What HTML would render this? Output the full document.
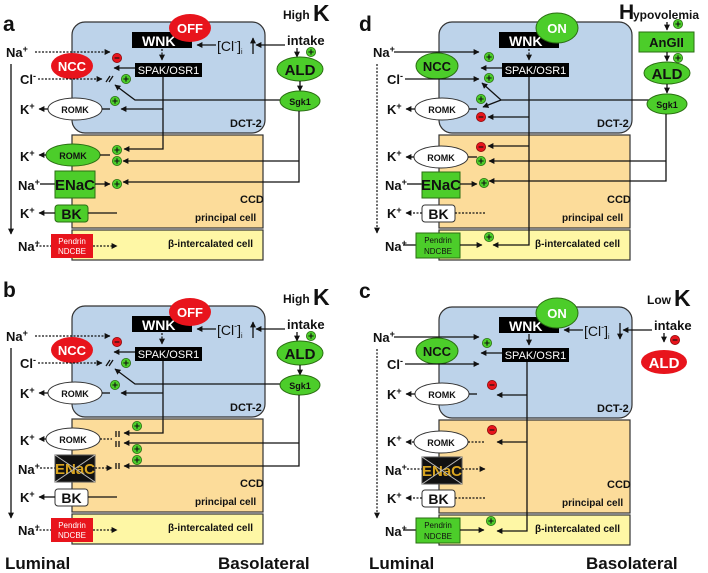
<!DOCTYPE html>
<html><head><meta charset="utf-8"><style>
html,body{margin:0;padding:0;background:#fff}
svg{display:block}
text{font-family:"Liberation Sans",sans-serif;font-weight:bold;fill:#111}
.L{font-size:13px}
.w{fill:#fff}
.s{stroke:#111;stroke-width:1.3;fill:none}
.d{stroke:#111;stroke-width:1.2;fill:none;stroke-dasharray:2 1.5}
.bx{stroke:#333;stroke-width:1.2}
</style></head><body>
<svg width="708" height="573" viewBox="0 0 708 573" xmlns="http://www.w3.org/2000/svg">
<defs>
<marker id="a" viewBox="0 0 10 10" refX="9" refY="5" markerWidth="6" markerHeight="6" markerUnits="userSpaceOnUse" orient="auto"><path d="M0,0L10,5L0,10z" fill="#111"/></marker>
<g id="P"><circle r="4.6" fill="#4ccd2a" stroke="#2a6e12" stroke-width=".8"/><path d="M-2.6,0H2.6M0,-2.6V2.6" stroke="#111" stroke-width="1.1"/></g>
<g id="M"><circle r="4.6" fill="#e8141c" stroke="#8a0a0a" stroke-width=".8"/><path d="M-2.4,0H2.4" stroke="#111" stroke-width="1.1"/></g>
<g id="boxes">
<rect x="72" y="22" width="193" height="111" rx="13" fill="#bdd3ea" class="bx"/>
<rect x="72" y="135" width="191" height="93" fill="#fcdc9a" class="bx"/>
<rect x="72" y="230" width="191" height="30" fill="#fef7a5" class="bx"/>
<rect x="132" y="32" width="60" height="16" fill="#000"/>
<rect x="135" y="63" width="67" height="14" fill="#000"/>
<ellipse cx="75" cy="109" rx="27" ry="11" fill="#fff" stroke="#333"/>
</g>
<g id="txt">
<text x="142" y="46" class="w" font-size="14">WNK</text>
<text x="168.5" y="74" class="w" font-size="11" text-anchor="middle" style="font-weight:normal">SPAK/OSR1</text>
<text x="75" y="113" font-size="9" text-anchor="middle">ROMK</text>
<text x="230" y="127" font-size="11">DCT-2</text>
<text x="240" y="203" font-size="11">CCD</text>
<text x="195" y="221" font-size="10">principal cell</text>
<text x="168" y="247" font-size="10">β-intercalated cell</text>
<text x="6" y="57" class="L">Na<tspan font-size="9" dy="-5">+</tspan></text>
<text x="20" y="84" class="L">Cl<tspan font-size="9" dy="-5">-</tspan></text>
<text x="20" y="114" class="L">K<tspan font-size="9" dy="-5">+</tspan></text>
<text x="20" y="161" class="L">K<tspan font-size="9" dy="-5">+</tspan></text>
<text x="18" y="190" class="L">Na<tspan font-size="9" dy="-5">+</tspan></text>
<text x="20" y="218" class="L">K<tspan font-size="9" dy="-5">+</tspan></text>
<text x="18" y="251" class="L">Na<tspan font-size="9" dy="-5">+</tspan></text>
</g>
<g id="cln">
<text x="217" y="51" font-size="14" style="font-weight:normal">[Cl<tspan font-size="9" dy="-6">-</tspan><tspan dy="6">]</tspan><tspan font-size="7" dy="3">i</tspan></text>
<path class="s" d="M216,45H197" marker-end="url(#a)"/>
<path class="s" d="M285,45H256" marker-end="url(#a)"/>
<text x="287" y="45" font-size="13">intake</text>
<path class="s" d="M297,48V57" marker-end="url(#a)"/>
</g>
<g id="romkline">
<path class="s" d="M48,109H39" marker-end="url(#a)"/>
<path class="s" d="M102,109H110"/>
<path class="s" d="M135,68H114" marker-end="url(#a)"/>
</g>
</defs>

<!-- PANEL A -->
<g>
<text x="3" y="31" font-size="21">a</text>
<use href="#boxes"/><use href="#txt"/><use href="#cln"/><use href="#romkline"/>
<path class="s" d="M253,54V38" marker-end="url(#a)"/>
<ellipse cx="190" cy="28" rx="21" ry="14" fill="#e8141c"/><text x="190" y="33" class="w" font-size="13" text-anchor="middle">OFF</text>
<path class="d" d="M162,49V60" marker-end="url(#a)"/>
<ellipse cx="72" cy="66" rx="21" ry="13" fill="#e8141c"/><text x="72" y="71" class="w" font-size="13" text-anchor="middle">NCC</text>
<path class="d" d="M35,52H110" marker-end="url(#a)"/>
<use href="#M" x="117" y="58"/>
<path class="d" d="M38,79H102" marker-end="url(#a)"/>
<path class="s" d="M106,82L110,76M109,82L113,76" stroke-width="1"/>
<use href="#P" x="126" y="79"/>
<path class="s" d="M280,100H135L115,85" marker-end="url(#a)"/>
<use href="#P" x="115" y="101"/>
<path class="s" d="M163,77V149H124" marker-end="url(#a)"/>
<path class="s" d="M163,109H121" marker-end="url(#a)"/>
<text x="283" y="19" font-size="12">High</text><text x="313" y="21" font-size="23">K</text>
<use href="#P" x="311" y="52"/>
<ellipse cx="300" cy="69" rx="23" ry="12" fill="#4ccd2a" stroke="#2a6e12"/><text x="300" y="75" font-size="15" text-anchor="middle">ALD</text>
<path class="s" d="M300,81V91" marker-end="url(#a)"/>
<ellipse cx="300" cy="101" rx="20" ry="10" fill="#4ccd2a" stroke="#2a6e12"/><text x="300" y="105" font-size="9" text-anchor="middle">Sgk1</text>
<path class="s" d="M299,111V182H123" marker-end="url(#a)"/>
<path class="s" d="M299,161H123" marker-end="url(#a)"/>
<ellipse cx="73" cy="155" rx="27" ry="11" fill="#4ccd2a" stroke="#2a6e12"/><text x="73" y="159" font-size="9" text-anchor="middle">ROMK</text>
<path class="s" d="M46,155H39" marker-end="url(#a)"/><path class="s" d="M100,155H110"/>
<use href="#P" x="117" y="150"/><use href="#P" x="117" y="161"/>
<path class="s" d="M40,184H55"/>
<rect x="55" y="171" width="40" height="27" fill="#4ccd2a" stroke="#2a6e12"/><text x="75" y="190" font-size="15" text-anchor="middle">ENaC</text>
<path class="s" d="M95,184H110" marker-end="url(#a)"/><use href="#P" x="117" y="184"/>
<rect x="55" y="205" width="33" height="17" rx="3" fill="#4ccd2a" stroke="#2a6e12"/><text x="71.5" y="219" font-size="14" text-anchor="middle">BK</text>
<path class="s" d="M55,213H39" marker-end="url(#a)"/><path class="s" d="M88,213H117"/>
<path class="d" d="M36,246H51"/>
<rect x="51" y="234" width="42" height="24" fill="#e8141c"/><text x="72" y="244" class="w" font-size="8" text-anchor="middle" style="font-weight:normal">Pendrin</text><text x="72" y="254" class="w" font-size="8" text-anchor="middle" style="font-weight:normal">NDCBE</text>
<path class="d" d="M93,246H117" marker-end="url(#a)"/>
<path class="s" d="M11,64V234" marker-end="url(#a)"/>
</g>

<!-- PANEL B -->
<g transform="translate(0,284)">
<text x="3" y="13" font-size="21">b</text>
<use href="#boxes"/><use href="#txt"/><use href="#cln"/><use href="#romkline"/>
<path class="s" d="M253,54V38" marker-end="url(#a)"/>
<ellipse cx="190" cy="28" rx="21" ry="14" fill="#e8141c"/><text x="190" y="33" class="w" font-size="13" text-anchor="middle">OFF</text>
<path class="d" d="M162,49V60" marker-end="url(#a)"/>
<ellipse cx="72" cy="66" rx="21" ry="13" fill="#e8141c"/><text x="72" y="71" class="w" font-size="13" text-anchor="middle">NCC</text>
<path class="d" d="M35,52H110" marker-end="url(#a)"/>
<use href="#M" x="117" y="58"/>
<path class="d" d="M38,79H102" marker-end="url(#a)"/>
<path class="s" d="M106,82L110,76M109,82L113,76" stroke-width="1"/>
<use href="#P" x="126" y="79"/>
<path class="s" d="M280,100H135L115,85" marker-end="url(#a)"/>
<use href="#P" x="115" y="101"/>
<path class="s" d="M163,77V149H124" marker-end="url(#a)"/>
<path class="s" d="M163,109H121" marker-end="url(#a)"/>
<text x="283" y="19" font-size="12">High</text><text x="313" y="21" font-size="23">K</text>
<use href="#P" x="311" y="52"/>
<ellipse cx="300" cy="69" rx="23" ry="12" fill="#4ccd2a" stroke="#2a6e12"/><text x="300" y="75" font-size="15" text-anchor="middle">ALD</text>
<path class="s" d="M300,81V91" marker-end="url(#a)"/>
<ellipse cx="300" cy="101" rx="20" ry="10" fill="#4ccd2a" stroke="#2a6e12"/><text x="300" y="105" font-size="9" text-anchor="middle">Sgk1</text>
<path class="s" d="M299,111V182H124" marker-end="url(#a)"/>
<path class="s" d="M299,159H124" marker-end="url(#a)"/>
<ellipse cx="73" cy="155" rx="27" ry="11" fill="#fff" stroke="#333"/><text x="73" y="159" font-size="9" text-anchor="middle">ROMK</text>
<path class="d" d="M46,155H39" marker-end="url(#a)"/><path class="d" d="M100,155H112"/>
<path class="s" d="M116,147V153M119,147V153M116,157V163M119,157V163M116,179V185M119,179V185" stroke-width="1"/>
<use href="#P" x="137" y="142"/><use href="#P" x="137" y="165"/><use href="#P" x="137" y="176"/>
<path class="d" d="M40,184H55"/>
<rect x="55" y="171" width="40" height="27" fill="#111" stroke="#555"/>
<text x="75" y="190" font-size="15" text-anchor="middle" fill="#d9a520" style="fill:#d9a520">ENaC</text>
<path d="M55,171L95,198M95,171L55,198" stroke="#bbb" stroke-width="1"/>
<path class="d" d="M95,184H112" marker-end="url(#a)"/>
<rect x="55" y="205" width="33" height="17" rx="3" fill="#fff" stroke="#333"/><text x="71.5" y="219" font-size="14" text-anchor="middle">BK</text>
<path class="s" d="M55,213H39" marker-end="url(#a)"/><path class="s" d="M88,213H117"/>
<path class="d" d="M36,246H51"/>
<rect x="51" y="234" width="42" height="24" fill="#e8141c"/><text x="72" y="244" class="w" font-size="8" text-anchor="middle" style="font-weight:normal">Pendrin</text><text x="72" y="254" class="w" font-size="8" text-anchor="middle" style="font-weight:normal">NDCBE</text>
<path class="d" d="M93,246H117" marker-end="url(#a)"/>
<path class="s" d="M11,64V234" marker-end="url(#a)"/>
<text x="5" y="285" font-size="17">Luminal</text>
<text x="218" y="285" font-size="17">Basolateral</text>
</g>

<!-- PANEL D -->
<g transform="translate(367,0)">
<text x="-8" y="31" font-size="21">d</text>
<use href="#boxes"/><use href="#txt"/><use href="#romkline"/>
<ellipse cx="190" cy="28" rx="21" ry="15" fill="#4ccd2a" stroke="#2a6e12"/><text x="190" y="33" class="w" font-size="13" text-anchor="middle">ON</text>
<path class="d" d="M162,49V60" marker-end="url(#a)"/>
<ellipse cx="70" cy="66" rx="21" ry="13" fill="#4ccd2a" stroke="#2a6e12"/><text x="70" y="71" font-size="13" text-anchor="middle">NCC</text>
<path class="s" d="M27,52H112" marker-end="url(#a)"/>
<use href="#P" x="122" y="57"/>
<path class="s" d="M38,79H112" marker-end="url(#a)"/>
<use href="#P" x="122" y="78"/>
<path class="s" d="M290,100H134L115,83" marker-end="url(#a)"/>
<path class="s" d="M134,100L116,107" marker-end="url(#a)"/>
<use href="#P" x="114" y="99"/><use href="#M" x="114" y="117"/>
<path class="s" d="M162,77V245H126" marker-end="url(#a)"/>
<path class="s" d="M162,117H121" marker-end="url(#a)"/>
<path class="s" d="M162,146H121" marker-end="url(#a)"/>
<text x="252" y="19" font-size="21">H</text><text x="266" y="19" font-size="12">ypovolemia</text>
<path class="s" d="M300,22V30" marker-end="url(#a)"/><use href="#P" x="311" y="24"/>
<rect x="272" y="32" width="55" height="20" fill="#4ccd2a" stroke="#2a6e12"/><text x="299.5" y="47" font-size="13" text-anchor="middle">AnGII</text>
<path class="s" d="M300,52V61" marker-end="url(#a)"/><use href="#P" x="311" y="58"/>
<ellipse cx="300" cy="73" rx="23" ry="11" fill="#4ccd2a" stroke="#2a6e12"/><text x="300" y="79" font-size="15" text-anchor="middle">ALD</text>
<path class="s" d="M300,84V93" marker-end="url(#a)"/>
<ellipse cx="300" cy="104" rx="20" ry="10" fill="#4ccd2a" stroke="#2a6e12"/><text x="300" y="108" font-size="9" text-anchor="middle">Sgk1</text>
<path class="s" d="M299,114V181H122" marker-end="url(#a)"/>
<path class="s" d="M299,161H122" marker-end="url(#a)"/>
<ellipse cx="74" cy="157" rx="27" ry="11" fill="#fff" stroke="#333"/><text x="74" y="161" font-size="9" text-anchor="middle">ROMK</text>
<path class="s" d="M47,157H39" marker-end="url(#a)"/><path class="s" d="M101,157H110"/>
<use href="#M" x="114" y="147"/><use href="#P" x="114" y="161"/>
<path class="s" d="M40,184H55"/>
<rect x="55" y="172" width="38" height="26" fill="#4ccd2a" stroke="#2a6e12"/><text x="74" y="190" font-size="15" text-anchor="middle">ENaC</text>
<path class="s" d="M93,184H110" marker-end="url(#a)"/><use href="#P" x="117" y="183"/>
<rect x="55" y="205" width="33" height="17" rx="3" fill="#fff" stroke="#333"/><text x="71.5" y="219" font-size="14" text-anchor="middle">BK</text>
<path class="d" d="M55,213H39" marker-end="url(#a)"/><path class="d" d="M88,213H118"/>
<path class="s" d="M36,245H49"/>
<rect x="49" y="233" width="44" height="25" fill="#4ccd2a" stroke="#2a6e12"/><text x="71" y="243" font-size="8" text-anchor="middle" style="font-weight:normal">Pendrin</text><text x="71" y="254" font-size="8" text-anchor="middle" style="font-weight:normal">NDCBE</text>
<path class="s" d="M93,245H115" marker-end="url(#a)"/><use href="#P" x="122" y="237"/>
<path class="d" d="M10,64V233" marker-end="url(#a)"/>
</g>

<!-- PANEL C -->
<g transform="translate(367,285)">
<text x="-8" y="13" font-size="21">c</text>
<use href="#boxes"/><use href="#txt"/><use href="#cln"/><use href="#romkline"/>
<path class="s" d="M253,38V54" marker-end="url(#a)"/>
<ellipse cx="190" cy="28" rx="21" ry="15" fill="#4ccd2a" stroke="#2a6e12"/><text x="190" y="33" class="w" font-size="13" text-anchor="middle">ON</text>
<path class="s" d="M162,49V60" marker-end="url(#a)"/>
<ellipse cx="70" cy="66" rx="21" ry="13" fill="#4ccd2a" stroke="#2a6e12"/><text x="70" y="71" font-size="13" text-anchor="middle">NCC</text>
<path class="s" d="M27,52H112" marker-end="url(#a)"/>
<use href="#P" x="120" y="58"/>
<path class="s" d="M38,79H112" marker-end="url(#a)"/>
<use href="#M" x="125" y="100"/>
<path class="s" d="M160,77V246H130" marker-end="url(#a)"/>
<path class="s" d="M160,110H130" marker-end="url(#a)"/>
<path class="s" d="M160,157H130" marker-end="url(#a)"/>
<text x="280" y="19" font-size="12">Low</text><text x="307" y="21" font-size="23">K</text>
<use href="#M" x="308" y="55"/>
<ellipse cx="297" cy="77" rx="23" ry="12" fill="#e8141c"/><text x="297" y="83" class="w" font-size="15" text-anchor="middle">ALD</text>
<ellipse cx="74" cy="157" rx="27" ry="11" fill="#fff" stroke="#333"/><text x="74" y="161" font-size="9" text-anchor="middle">ROMK</text>
<path class="d" d="M47,157H39" marker-end="url(#a)"/><path class="d" d="M101,157H117"/>
<use href="#M" x="125" y="145"/>
<path class="d" d="M40,184H55"/>
<rect x="55" y="172" width="40" height="27" fill="#111" stroke="#555"/>
<text x="75" y="191" font-size="15" text-anchor="middle" style="fill:#d9a520">ENaC</text>
<path d="M55,172L95,199M95,172L55,199" stroke="#bbb" stroke-width="1"/>
<path class="d" d="M95,184H118" marker-end="url(#a)"/>
<rect x="55" y="205" width="33" height="17" rx="3" fill="#fff" stroke="#333"/><text x="71.5" y="219" font-size="14" text-anchor="middle">BK</text>
<path class="d" d="M55,213H39" marker-end="url(#a)"/><path class="d" d="M88,213H118"/>
<path class="s" d="M36,245H49"/>
<rect x="49" y="233" width="44" height="25" fill="#4ccd2a" stroke="#2a6e12"/><text x="71" y="243" font-size="8" text-anchor="middle" style="font-weight:normal">Pendrin</text><text x="71" y="254" font-size="8" text-anchor="middle" style="font-weight:normal">NDCBE</text>
<path class="s" d="M93,245H117" marker-end="url(#a)"/><use href="#P" x="124" y="236"/>
<path class="d" d="M10,64V233" marker-end="url(#a)"/>
<text x="2" y="284" font-size="17">Luminal</text>
<text x="219" y="284" font-size="17">Basolateral</text>
</g>
</svg>
</body></html>
